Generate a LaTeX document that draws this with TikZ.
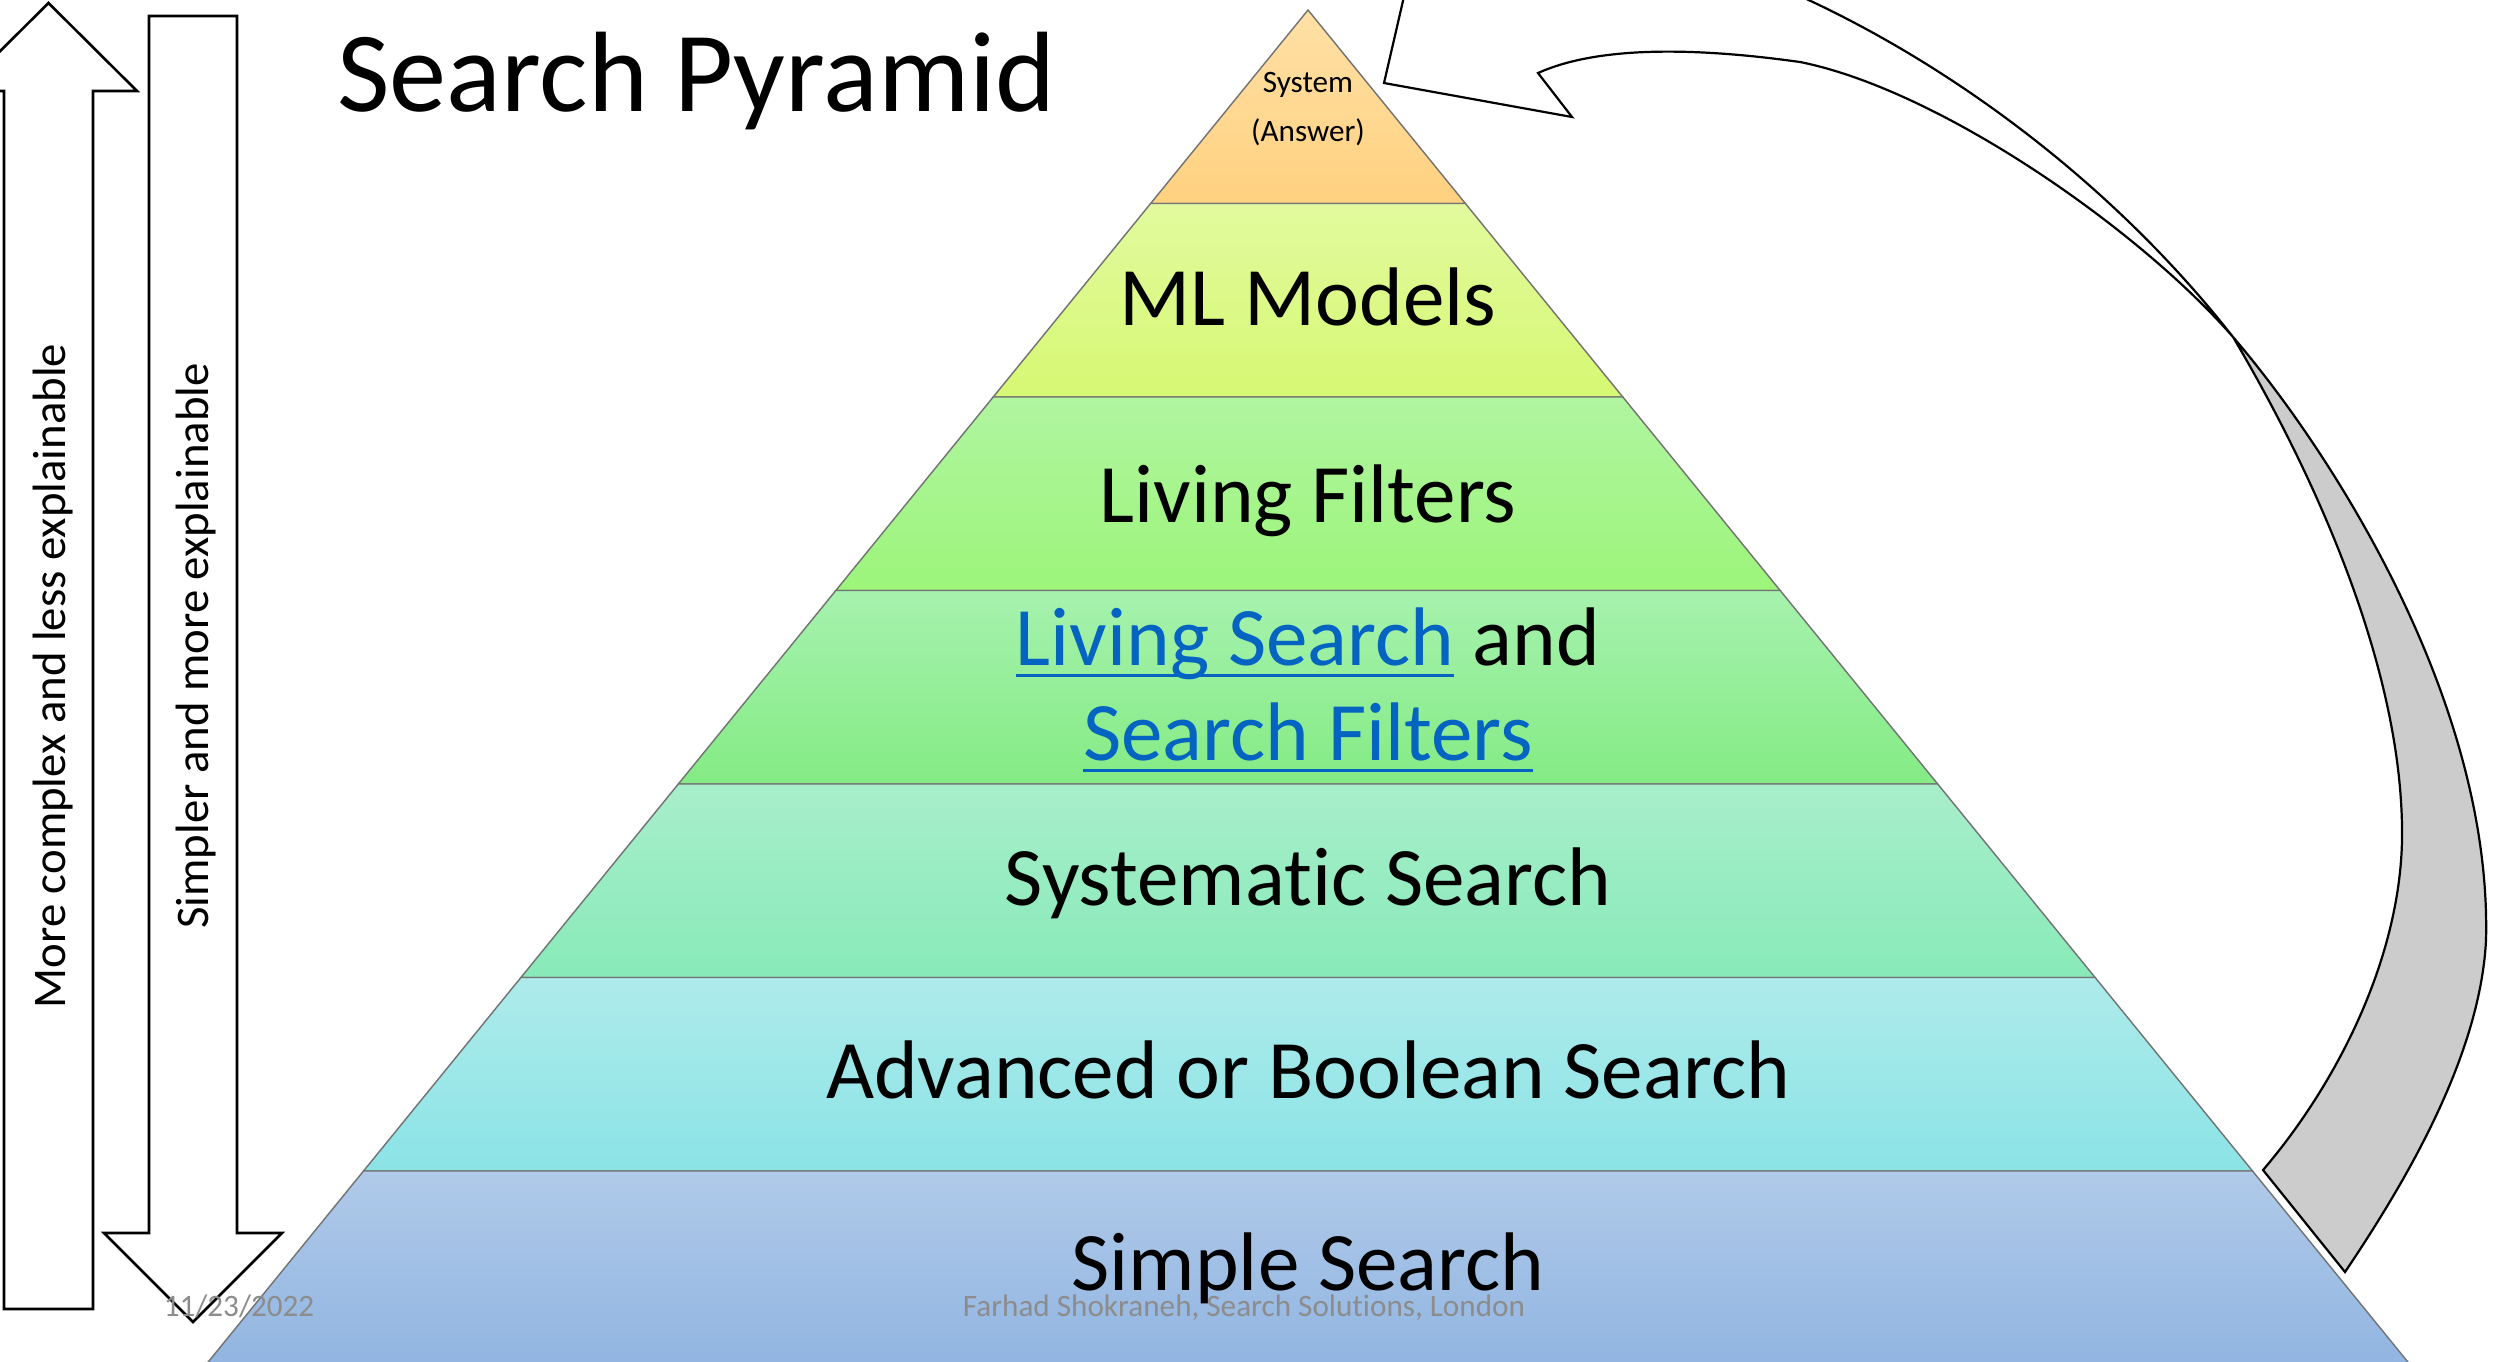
\documentclass[tikz,border=0pt]{standalone}
\usepackage{fontspec}
\setmainfont{Carlito}[RawFeature={-liga;-clig;-dlig}]
\definecolor{linkblue}{HTML}{0563C1}
\definecolor{footgray}{HTML}{8C8C8C}
\definecolor{lAt}{HTML}{FFE0A6}\definecolor{lAb}{HTML}{FFD17F}
\definecolor{lBt}{HTML}{E2FA9E}\definecolor{lBb}{HTML}{D6F873}
\definecolor{lCt}{HTML}{B0F5A0}\definecolor{lCb}{HTML}{9CF57A}
\definecolor{lDt}{HTML}{A6F2AE}\definecolor{lDb}{HTML}{84EB84}
\definecolor{lEt}{HTML}{A8EECB}\definecolor{lEb}{HTML}{88EAB8}
\definecolor{lFt}{HTML}{AEEBEB}\definecolor{lFb}{HTML}{8BE3E6}
\definecolor{lGt}{HTML}{B0CAE9}\definecolor{lGb}{HTML}{91B5E1}
\newcommand\linkul[1]{\setbox0\hbox{#1}\rlap{\rule[-4.6pt]{\wd0}{1.1pt}}\box0}
\tikzset{
  layer/.style={draw=black!55, line width=0.55pt},
  lbl/.style={anchor=base, inner sep=0pt, font=\fontsize{32}{38}\selectfont},
  small/.style={anchor=base, inner sep=0pt, font=\fontsize{12}{14}\selectfont},
  foot/.style={anchor=base, inner sep=0pt, text=footgray, font=\fontsize{12}{14}\selectfont},
  sidetext/.style={anchor=base, inner sep=0pt, rotate=90, font=\fontsize{18}{22}\selectfont},
  blockarrow/.style={draw=black, line width=1pt, fill=white, line join=miter},
  bigarrow/.style={draw=black, line width=0.85pt, line join=miter}
}
\begin{document}
\begin{tikzpicture}[x=0.3849pt,y=-0.3849pt]
\useasboundingbox (0,0) rectangle (2494,1361);
\clip (0,0) rectangle (2494,1361);
\fill[white] (0,0) rectangle (2494,1361);

% pyramid layers
\path[layer, top color=lAt, bottom color=lAb] (1308,10) -- (1465.4,203.5) -- (1150.6,203.5) -- cycle;
\path[layer, top color=lBt, bottom color=lBb] (1150.6,203.5) -- (1465.4,203.5) -- (1622.8,397) -- (993.2,397) -- cycle;
\path[layer, top color=lCt, bottom color=lCb] (993.2,397) -- (1622.8,397) -- (1780.2,590.5) -- (835.8,590.5) -- cycle;
\path[layer, top color=lDt, bottom color=lDb] (835.8,590.5) -- (1780.2,590.5) -- (1937.7,784) -- (678.3,784) -- cycle;
\path[layer, top color=lEt, bottom color=lEb] (678.3,784) -- (1937.7,784) -- (2095.1,977.5) -- (520.9,977.5) -- cycle;
\path[layer, top color=lFt, bottom color=lFb] (520.9,977.5) -- (2095.1,977.5) -- (2252.5,1171) -- (363.5,1171) -- cycle;
\path[layer, top color=lGt, bottom color=lGb] (363.5,1171) -- (2252.5,1171) -- (2409.9,1364.5) -- (206.1,1364.5) -- cycle;

% side arrows
\draw[blockarrow] (4,1309) -- (4,91) -- (-40,91) -- (48.5,3) -- (137,91) -- (93,91) -- (93,1309) -- cycle;
\draw[blockarrow] (149,16) -- (237,16) -- (237,1233) -- (282,1233) -- (193,1322) -- (104,1233) -- (149,1233) -- cycle;
\node[sidetext] (complex) at (65,676) {More complex and less explainable};
\node[sidetext] (simpler) at (208,646) {Simpler and more explainable};

% curved arrow
\draw[bigarrow, fill=white] (1538,73) .. controls (1600,45) and (1700,48) .. (1800,62)
   .. controls (1940,90) and (2140,230) .. (2233,337)
   .. controls (2000,40) and (1620,-120) .. (1456,-59)
   -- (1427,-103) -- (1384,83) -- (1572,117) -- cycle;
\draw[bigarrow, fill=black!20] (2233,337) .. controls (2330,450) and (2492,700) .. (2486,940)
   .. controls (2480,1060) and (2400,1190) .. (2345,1272)
   -- (2263,1170)
   .. controls (2340,1080) and (2404,950) .. (2402,828)
   .. controls (2400,650) and (2300,450) .. (2233,337) -- cycle;

% title
\node[anchor=base west, inner sep=0pt, font=\fontsize{44}{52}\selectfont] (title) at (337,111) {Search Pyramid};

% footer
\node[foot] (date) at (239,1316) {11/23/2022};
\node[foot] (author) at (1244,1316) {Farhad Shokraneh, Search Solutions, London};

% layer labels
\node[small] (sys1) at (1308,92.5) {System};
\node[small] (sys2) at (1308,141.5) {(Answer)};
\node[lbl] (ml) at (1308,325) {ML Models};
\node[lbl] (lf) at (1308,522) {Living Filters};
\node[lbl] (ls1) at (1308,665) {\textcolor{linkblue}{\linkul{Living Search}} and};
\node[lbl] (ls2) at (1308,760) {\textcolor{linkblue}{\linkul{Search Filters}}};
\node[lbl] (sys) at (1308,905) {Systematic Search};
\node[lbl] (adv) at (1308,1098) {Advanced or Boolean Search};
\node[lbl] (simple) at (1308,1290) {Simple Search};
\end{tikzpicture}
\end{document}
